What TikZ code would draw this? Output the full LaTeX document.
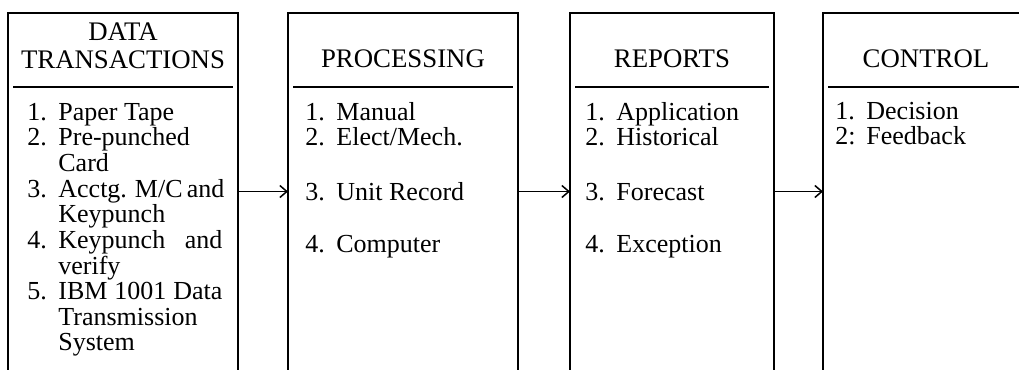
\documentclass[tikz,border=0pt]{standalone}
\usepackage{fontspec}
\setmainfont{Liberation Serif}
\usetikzlibrary{arrows.meta}

\begin{document}
\begin{tikzpicture}[x=0.5pt, y=-0.5pt,
	col/.style = {minimum height=178.5pt, inner sep=0pt, outer sep=0pt},
	head/.style = {anchor=base, inner sep=0pt, font=\fontsize{13.4}{14}\selectfont},
	items/.style = {anchor=base west, inner sep=0pt, font=\fontsize{13}{12.75}\selectfont},
	frame/.style = {line width=1pt},
	link/.style = {line width=0.75pt, ->},
	>={Straight Barb[length=3.5pt, width=6pt]}]
	\useasboundingbox (0,0) rectangle (1019,370);
	\clip (0,0) rectangle (1019,370);

	% the four columns, left open at the bottom
	\node[col, minimum width=115pt] (data) at (123,191.5) {};
	\node[col, minimum width=115pt] (proc) at (403,191.5) {};
	\node[col, minimum width=102pt] (rep) at (672,191.5) {};
	\node[col, minimum width=103pt] (ctrl) at (926,191.5) {};
	\foreach \c in {data,proc,rep,ctrl}{
		\draw[frame] (\c.south west) |- (\c.north east) -- (\c.south east);
		\draw[line width=0.75pt, shorten <=2.5pt, shorten >=2.5pt] (\c.west |- 0,87) -- (\c.east |- 0,87);
	}

	% headings
	\node[head] (datahead) at (123,68) {\begin{tabular}[b]{@{}c@{}}DATA\\TRANSACTIONS\end{tabular}};
	\node[head] (prochead) at (403,67) {PROCESSING};
	\node[head] (rephead) at (672,67) {REPORTS};
	\node[head] (ctrlhead) at (926,67) {CONTROL};

	% lists
	\node[items] (dataitems) at (27,120) {\begin{tabular}[t]{@{}p{15.5pt}@{}l@{}}
		1. & Paper Tape\\
		2. & Pre-punched\\
		   & Card\\
		3. & \makebox[82pt][s]{Acctg. M/C and}\\
		   & Keypunch\\
		4. & \makebox[82pt][s]{Keypunch and}\\
		   & verify\\
		5. & \makebox[82pt][s]{IBM 1001 Data}\\
		   & Transmission\\
		   & System
	\end{tabular}};
	\node[items] (procitems) at (305,120) {\begin{tabular}[t]{@{}p{15.5pt}@{}l@{}}
		1. & Manual\\
		2. & Elect/Mech.\\[14.5pt]
		3. & Unit Record\\[13.25pt]
		4. & Computer
	\end{tabular}};
	\node[items] (repitems) at (585,120) {\begin{tabular}[t]{@{}p{15.5pt}@{}l@{}}
		1. & Application\\
		2. & Historical\\[14.5pt]
		3. & Forecast\\[13.25pt]
		4. & Exception
	\end{tabular}};
	\node[items] (ctrlitems) at (835,119) {\begin{tabular}[t]{@{}p{15.5pt}@{}l@{}}
		1. & Decision\\
		2: & Feedback
	\end{tabular}};

	% flow between the columns
	\draw[link] (data) -- (proc);
	\draw[link] (proc) -- (rep);
	\draw[link] (rep) -- (ctrl);
\end{tikzpicture}
\end{document}
